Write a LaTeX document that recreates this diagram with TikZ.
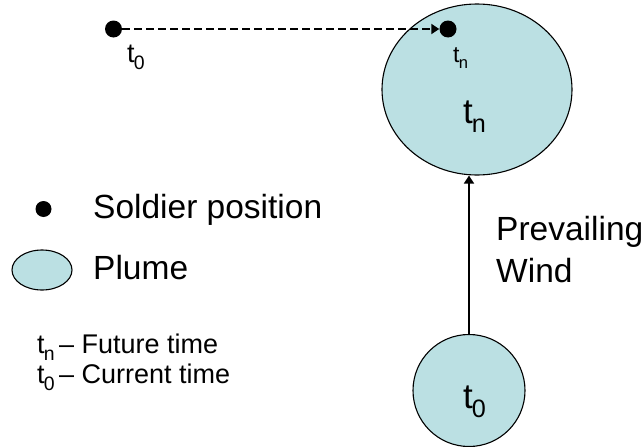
\documentclass[tikz,border=0pt]{standalone}
\usepackage{fontspec}
\setmainfont{Liberation Sans}
\usetikzlibrary{arrows.meta,shapes.geometric}
\definecolor{plumeblue}{HTML}{BBE0E3}
\newcommand\tsub[1]{t\kern-0.03em\raisebox{-0.28em}{\scalebox{0.72}{#1}}}
\begin{document}
\begin{tikzpicture}[x=1pt,y=-1pt,
  plume/.style={ellipse, draw=black, line width=1.1pt, fill=plumeblue, inner sep=0},
  soldier/.style={circle, fill=black, inner sep=0, minimum size=17pt},
  txt/.style={inner sep=0, anchor=base west},
  big/.style={font=\fontsize{33.5}{40}\selectfont},
  small/.style={font=\fontsize{27}{30}\selectfont},
  windarrow/.style={-{Triangle[length=8pt,width=10pt]}, line width=1.5pt},
  movearrow/.style={-{Triangle[length=8pt,width=10pt]}, line width=1.8pt, dash pattern=on 7.5pt off 4.5pt}
]
\useasboundingbox (0,0) rectangle (643,447);
% plumes
\node[plume, minimum width=190pt, minimum height=171pt] (pn) at (477,89.5) {};
\node[plume, minimum width=112pt, minimum height=112pt] (p0) at (469,390.5) {};
\node[txt, font=\fontsize{35}{40}\selectfont] (pnlbl) at (463,123) {\tsub{n}};
\node[txt, font=\fontsize{35}{40}\selectfont] (p0lbl) at (463,408) {\tsub{0}};
% soldier positions
\node[soldier] (s0) at (113.5,29) {};
\node[soldier] (sn) at (448,29) {};
\node[txt, font=\fontsize{27}{30}\selectfont] (s0lbl) at (127,62) {\tsub{0}};
\node[txt, font=\fontsize{23}{26}\selectfont] (snlbl) at (453,62) {\tsub{n}};
\draw[movearrow] (s0) -- (sn);
% wind
\draw[windarrow] (p0.north) -- (p0.north |- pn.south);
\node[txt, big] (prev) at (496,240) {Prevailing};
\node[txt, big] (wind) at (496,282) {Wind};
% legend
\node[soldier, minimum size=16pt] (ls) at (43.5,209) {};
\node[txt, big] (lst) at (93,218) {Soldier position};
\node[plume, minimum width=60pt, minimum height=40pt] (lp) at (42,270) {};
\node[txt, big] (lpt) at (93,279) {Plume};
\node[txt, small] (leg1) at (37,353) {\tsub{n}\,-- Future time};
\node[txt, small] (leg2) at (37,383) {\tsub{0}\,-- Current time};
\end{tikzpicture}
\end{document}
